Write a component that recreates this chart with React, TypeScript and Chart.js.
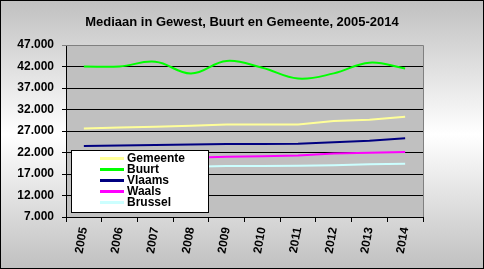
import React, { useEffect, useRef } from 'react';
import { Chart, registerables } from 'chart.js';

Chart.register(...registerables);

const titleText = 'Mediaan in Gewest, Buurt en Gemeente, 2005-2014';
const years = ['2005', '2006', '2007', '2008', '2009', '2010', '2011', '2012', '2013', '2014'];
const gemeente = [27600, 27800, 28000, 28200, 28500, 28500, 28500, 29300, 29600, 30300];
const buurt = [42000, 42000, 43100, 40400, 43300, 41700, 39200, 40400, 42900, 41550];
const vlaams = [23500, 23600, 23750, 23850, 24000, 24000, 24050, 24400, 24750, 25300];
const waals = [20200, 20400, 20600, 20800, 21000, 21100, 21300, 21750, 21950, 22100];
const brussel = [18400, 18500, 18600, 18700, 18850, 18850, 18900, 19050, 19250, 19400];
const yMin = 7000;
const yMax = 47000;
const yStep = 5000;

const FONT = '"Liberation Sans", Arial, sans-serif';

function fmt(v: number): string {
  const s = Math.round(v).toString();
  return s.replace(/\B(?=(\d{3})+(?!\d))/g, '.');
}

const decorPlugin = {
  id: 'decor',
  beforeDraw(chart: any) {
    const { ctx, width, height, chartArea } = chart;
    ctx.save();
    const g = ctx.createLinearGradient(0, 0, 0, height);
    g.addColorStop(0, '#c0c0c0');
    g.addColorStop(0.5, '#ffffff');
    g.addColorStop(1, '#c0c0c0');
    ctx.fillStyle = g;
    ctx.fillRect(0, 0, width, height);
    ctx.fillStyle = '#c0c0c0';
    ctx.fillRect(chartArea.left, chartArea.top, chartArea.right - chartArea.left, chartArea.bottom - chartArea.top);
    ctx.restore();
  },
  afterDraw(chart: any) {
    const { ctx, width, height, chartArea } = chart;
    ctx.save();
    ctx.strokeStyle = '#808080';
    ctx.lineWidth = 1;
    ctx.beginPath();
    ctx.moveTo(chartArea.left, chartArea.top + 0.5);
    ctx.lineTo(chartArea.right + 0.5, chartArea.top + 0.5);
    ctx.lineTo(chartArea.right + 0.5, chartArea.bottom);
    ctx.stroke();

    ctx.fillStyle = '#000';
    ctx.font = 'bold 13px ' + FONT;
    ctx.textAlign = 'center';
    ctx.textBaseline = 'middle';
    ctx.fillText(titleText, 242, 22);

    const lx = 71, ly = 150, lw = 138, lh = 63;
    ctx.fillStyle = '#ffffff';
    ctx.fillRect(lx, ly, lw, lh);
    ctx.strokeStyle = '#000';
    ctx.strokeRect(lx + 0.5, ly + 0.5, lw - 1, lh - 1);
    ctx.font = 'bold 12px ' + FONT;
    ctx.textAlign = 'left';
    ctx.textBaseline = 'middle';
    chart.data.datasets.forEach((ds: any, i: number) => {
      const y = 158.5 + i * 11;
      ctx.strokeStyle = ds.borderColor;
      ctx.lineWidth = 3;
      ctx.beginPath();
      ctx.moveTo(100, y);
      ctx.lineTo(124, y);
      ctx.stroke();
      ctx.fillStyle = '#000';
      ctx.fillText(ds.label, 127, y);
    });

    ctx.strokeStyle = '#000';
    ctx.lineWidth = 1;
    ctx.strokeRect(0.5, 0.5, width - 1, height - 1);
    ctx.restore();
  },
};

export default function App() {
  const ref = useRef<HTMLCanvasElement | null>(null);
  useEffect(() => {
    document.body.style.margin = '0';
    if (!ref.current) return;
    const mk = (label: string, data: number[], color: string, tension: number) => ({
      label,
      data,
      borderColor: color,
      backgroundColor: color,
      borderWidth: 2,
      pointRadius: 0,
      tension,
      fill: false,
    });
    const chart = new Chart(ref.current, {
      type: 'line',
      data: {
        labels: years,
        datasets: [
          mk('Gemeente', gemeente, '#ffff99', 0),
          mk('Buurt', buurt, '#00ff00', 0.4),
          mk('Vlaams', vlaams, '#000080', 0),
          mk('Waals', waals, '#ff00ff', 0),
          mk('Brussel', brussel, '#ccffff', 0),
        ],
      },
      options: {
        responsive: false,
        animation: false,
        devicePixelRatio: 1,
        layout: { padding: { top: 45, right: 61, left: 0, bottom: 0 } },
        plugins: {
          legend: { display: false },
          title: { display: false },
          tooltip: { enabled: false },
        },
        scales: {
          x: {
            type: 'category',
            offset: true,
            grid: {
              offset: true,
              drawOnChartArea: false,
              drawTicks: true,
              tickLength: 5,
              color: '#000',
            },
            border: { color: '#000', width: 1 },
            ticks: {
              autoSkip: false,
              maxRotation: 80,
              minRotation: 80,
              padding: 4,
              color: '#000',
              font: { family: FONT, size: 12, weight: 'bold' },
            },
            afterFit(scale: any) {
              scale.height = 52;
            },
          },
          y: {
            min: yMin,
            max: yMax,
            grid: {
              color: (c: any) => (c.tick && c.tick.value === yMax ? '#808080' : '#000'),
              tickLength: 4,
              drawTicks: true,
            },
            border: { color: '#000', width: 1 },
            ticks: {
              stepSize: yStep,
              padding: 8,
              color: '#000',
              font: { family: FONT, size: 12, weight: 'bold' },
              callback: (v: any) => fmt(Number(v)),
            },
            afterFit(scale: any) {
              scale.width = 66;
            },
          },
        },
      },
      plugins: [decorPlugin],
    } as any);
    return () => chart.destroy();
  }, []);
  return <canvas ref={ref} width={484} height={269} style={{ display: 'block' }} />;
}
